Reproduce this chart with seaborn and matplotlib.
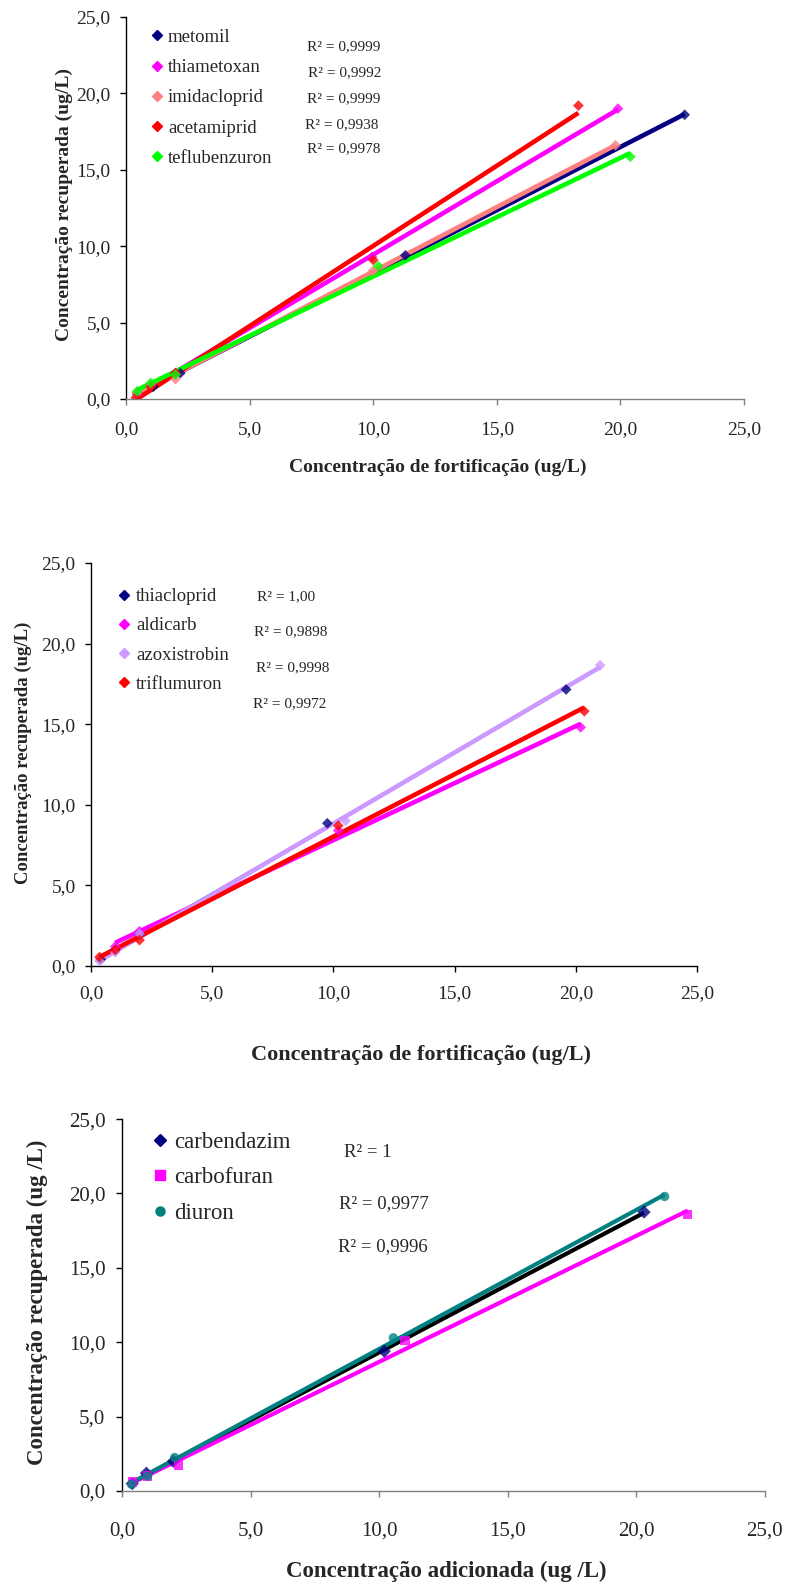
import numpy as np
import matplotlib
matplotlib.use('Agg')
import matplotlib.pyplot as plt
from matplotlib.lines import Line2D
import seaborn as sns

# ---- panel 1: fortification vs recovered ----
p1_names = ['metomil', 'thiametoxan', 'imidacloprid', 'acetamiprid', 'teflubenzuron']
p1_colors = ['#000080', '#FF00FF', '#FF8080', '#FF0000', '#00FF00']
p1_r2 = ['0,9999', '0,9992', '0,9999', '0,9938', '0,9978']
metomil_x = [0.45, 1.1, 2.2, 11.3, 22.6]
metomil_y = [0.4, 0.8, 1.7, 9.4, 18.6]
thiametoxan_x = [0.45, 1.0, 2.0, 9.95, 19.9]
thiametoxan_y = [0.3, 0.9, 1.7, 9.3, 19.0]
imidacloprid_x = [0.45, 1.0, 2.0, 10.0, 19.8]
imidacloprid_y = [0.4, 0.9, 1.3, 8.4, 16.6]
acetamiprid_x = [0.4, 1.0, 2.0, 10.0, 18.3]
acetamiprid_y = [0.1, 0.8, 1.7, 9.1, 19.2]
teflubenzuron_x = [0.45, 1.0, 2.0, 10.2, 20.4]
teflubenzuron_y = [0.5, 1.05, 1.6, 8.7, 15.85]

# ---- panel 2 ----
p2_names = ['thiacloprid', 'aldicarb', 'azoxistrobin', 'triflumuron']
p2_colors = ['#000080', '#FF00FF', '#CC99FF', '#FF0000']
p2_r2 = ['1,00', '0,9898', '0,9998', '0,9972']
thiacloprid_x = [0.4, 1.0, 2.0, 9.75, 19.6]
thiacloprid_y = [0.4, 1.0, 2.0, 8.85, 17.15]
aldicarb_x = [1.0, 2.0, 10.2, 20.2]
aldicarb_y = [1.2, 2.15, 8.4, 14.8]
azoxistrobin_x = [0.35, 1.0, 2.0, 10.5, 21.0]
azoxistrobin_y = [0.3, 0.85, 2.0, 9.0, 18.65]
triflumuron_x = [0.35, 1.0, 2.0, 10.2, 20.35]
triflumuron_y = [0.55, 1.0, 1.6, 8.7, 15.8]

# ---- panel 3: added vs recovered ----
p3_names = ['carbendazim', 'carbofuran', 'diuron']
p3_colors = ['#000080', '#FF00FF', '#008080']
p3_line_colors = ['#000000', '#FF00FF', '#008080']
p3_markers = ['D', 's', 'o']
p3_r2 = ['1', '0,9977', '0,9996']
carbendazim_x = [0.4, 0.95, 2.0, 10.2, 20.3]
carbendazim_y = [0.5, 1.2, 2.0, 9.4, 18.75]
carbofuran_x = [0.4, 1.0, 2.2, 11.0, 22.0]
carbofuran_y = [0.6, 1.0, 1.75, 10.1, 18.6]
diuron_x = [0.37, 1.0, 2.05, 10.55, 21.1]
diuron_y = [0.45, 1.0, 2.25, 10.3, 19.8]

ticks = [0, 5, 10, 15, 20, 25]
tick_labels = ['0,0', '5,0', '10,0', '15,0', '20,0', '25,0']

sns.set_style('white')
plt.rcParams['font.family'] = ['Liberation Serif', 'DejaVu Serif']

fig = plt.figure(figsize=(7.86, 15.84), dpi=100)
ax1 = fig.add_axes([0.1603, 0.7481, 0.7863, 0.2412])
ax2 = fig.add_axes([0.1158, 0.3902, 0.7710, 0.2544])
ax3 = fig.add_axes([0.1552, 0.0587, 0.8180, 0.2348])


def style_axes(ax, tsize, xpad, ypad, xcolor):
    ax.set_xlim(0, 25)
    ax.set_ylim(0, 25)
    ax.set_xticks(ticks)
    ax.set_yticks(ticks)
    ax.set_xticklabels(tick_labels)
    ax.set_yticklabels(tick_labels)
    for s in ['top', 'right']:
        ax.spines[s].set_visible(False)
    ax.spines['left'].set_color('black')
    ax.spines['bottom'].set_color(xcolor)
    ax.spines['left'].set_linewidth(1.0)
    ax.spines['bottom'].set_linewidth(1.0)
    ax.tick_params(axis='x', direction='out', length=4, width=1, color=xcolor,
                   labelsize=tsize, pad=xpad, bottom=True)
    ax.tick_params(axis='y', direction='out', length=4, width=1, color='black',
                   labelsize=tsize, pad=ypad, left=True)


def draw_series(ax, x, y, color, line_color, marker, s, lw):
    sns.regplot(x=np.array(x), y=np.array(y), ax=ax, ci=None, marker=marker,
                color=color,
                scatter_kws={'s': s, 'edgecolor': 'none', 'zorder': 3},
                line_kws={'lw': lw, 'color': line_color, 'zorder': 2,
                          'solid_capstyle': 'butt'})


# panel 1
p1_data = [(metomil_x, metomil_y), (thiametoxan_x, thiametoxan_y),
           (imidacloprid_x, imidacloprid_y), (acetamiprid_x, acetamiprid_y),
           (teflubenzuron_x, teflubenzuron_y)]
for (x, y), c in zip(p1_data, p1_colors):
    draw_series(ax1, x, y, c, c, 'D', 30, 3.3)
style_axes(ax1, 14, 12, 7, '#808080')
handles = [Line2D([], [], marker='D', color=c, linestyle='none', markersize=5)
           for c in p1_colors]
ax1.legend(handles, p1_names, loc='upper left', bbox_to_anchor=(0.035, 0.969),
           frameon=False, fontsize=13.5, borderpad=0, borderaxespad=0,
           handlelength=1.0, handletextpad=0.09, labelspacing=0.7)
r2_pos1 = [(0.293, 0.923), (0.294, 0.855), (0.293, 0.787), (0.290, 0.719), (0.293, 0.656)]
for (px, py), r in zip(r2_pos1, p1_r2):
    ax1.text(px, py, 'R² = ' + r, transform=ax1.transAxes, fontsize=11,
             ha='left', va='center')
ax1.set_xlabel('Concentração de fortificação (ug/L)', fontsize=14, fontweight='bold')
ax1.set_ylabel('Concentração recuperada (ug/L)', fontsize=14, fontweight='bold')
ax1.xaxis.set_label_coords(0.505, -0.155)
ax1.yaxis.set_label_coords(-0.085, 0.508)

# panel 2
p2_data = [(thiacloprid_x, thiacloprid_y), (aldicarb_x, aldicarb_y),
           (azoxistrobin_x, azoxistrobin_y), (triflumuron_x, triflumuron_y)]
p2_lw = [1.0, 3.3, 3.3, 3.3]
for (x, y), c, lw in zip(p2_data, p2_colors, p2_lw):
    draw_series(ax2, x, y, c, c, 'D', 30, lw)
style_axes(ax2, 14, 10, 7, 'black')
handles = [Line2D([], [], marker='D', color=c, linestyle='none', markersize=5)
           for c in p2_colors]
ax2.legend(handles, p2_names, loc='upper left', bbox_to_anchor=(0.039, 0.938),
           frameon=False, fontsize=13.5, borderpad=0, borderaxespad=0,
           handlelength=1.0, handletextpad=0.14, labelspacing=0.65)
r2_pos2 = [(0.274, 0.916), (0.269, 0.829), (0.272, 0.739), (0.267, 0.650)]
for (px, py), r in zip(r2_pos2, p2_r2):
    ax2.text(px, py, 'R² = ' + r, transform=ax2.transAxes, fontsize=11,
             ha='left', va='center')
ax2.set_xlabel('Concentração de fortificação (ug/L)', fontsize=16, fontweight='bold')
ax2.set_ylabel('Concentração recuperada (ug/L)', fontsize=13.5, fontweight='bold')
ax2.xaxis.set_label_coords(0.545, -0.195)
ax2.yaxis.set_label_coords(-0.097, 0.529)

# panel 3
p3_data = [(carbendazim_x, carbendazim_y), (carbofuran_x, carbofuran_y),
           (diuron_x, diuron_y)]
for (x, y), c, lc, m in zip(p3_data, p3_colors, p3_line_colors, p3_markers):
    draw_series(ax3, x, y, c, lc, m, 45, 3.0)
style_axes(ax3, 15, 18, 8, '#808080')
handles = [Line2D([], [], marker=m, color=c, linestyle='none', markersize=6.5)
           for c, m in zip(p3_colors, p3_markers)]
ax3.legend(handles, p3_names, loc='upper left', bbox_to_anchor=(0.041, 0.965),
           frameon=False, fontsize=16.5, borderpad=0, borderaxespad=0,
           handlelength=1.0, handletextpad=0.11, labelspacing=0.62)
r2_pos3 = [(0.345, 0.909), (0.337, 0.772), (0.336, 0.656)]
for (px, py), r in zip(r2_pos3, p3_r2):
    ax3.text(px, py, 'R² = ' + r, transform=ax3.transAxes, fontsize=13.5,
             ha='left', va='center')
ax3.set_xlabel('Concentração adicionada (ug /L)', fontsize=16.5, fontweight='bold')
ax3.set_ylabel('Concentração recuperada (ug /L)', fontsize=16.5, fontweight='bold')
ax3.xaxis.set_label_coords(0.504, -0.187)
ax3.yaxis.set_label_coords(-0.115, 0.508)

fig.savefig('out.png', dpi=100)
